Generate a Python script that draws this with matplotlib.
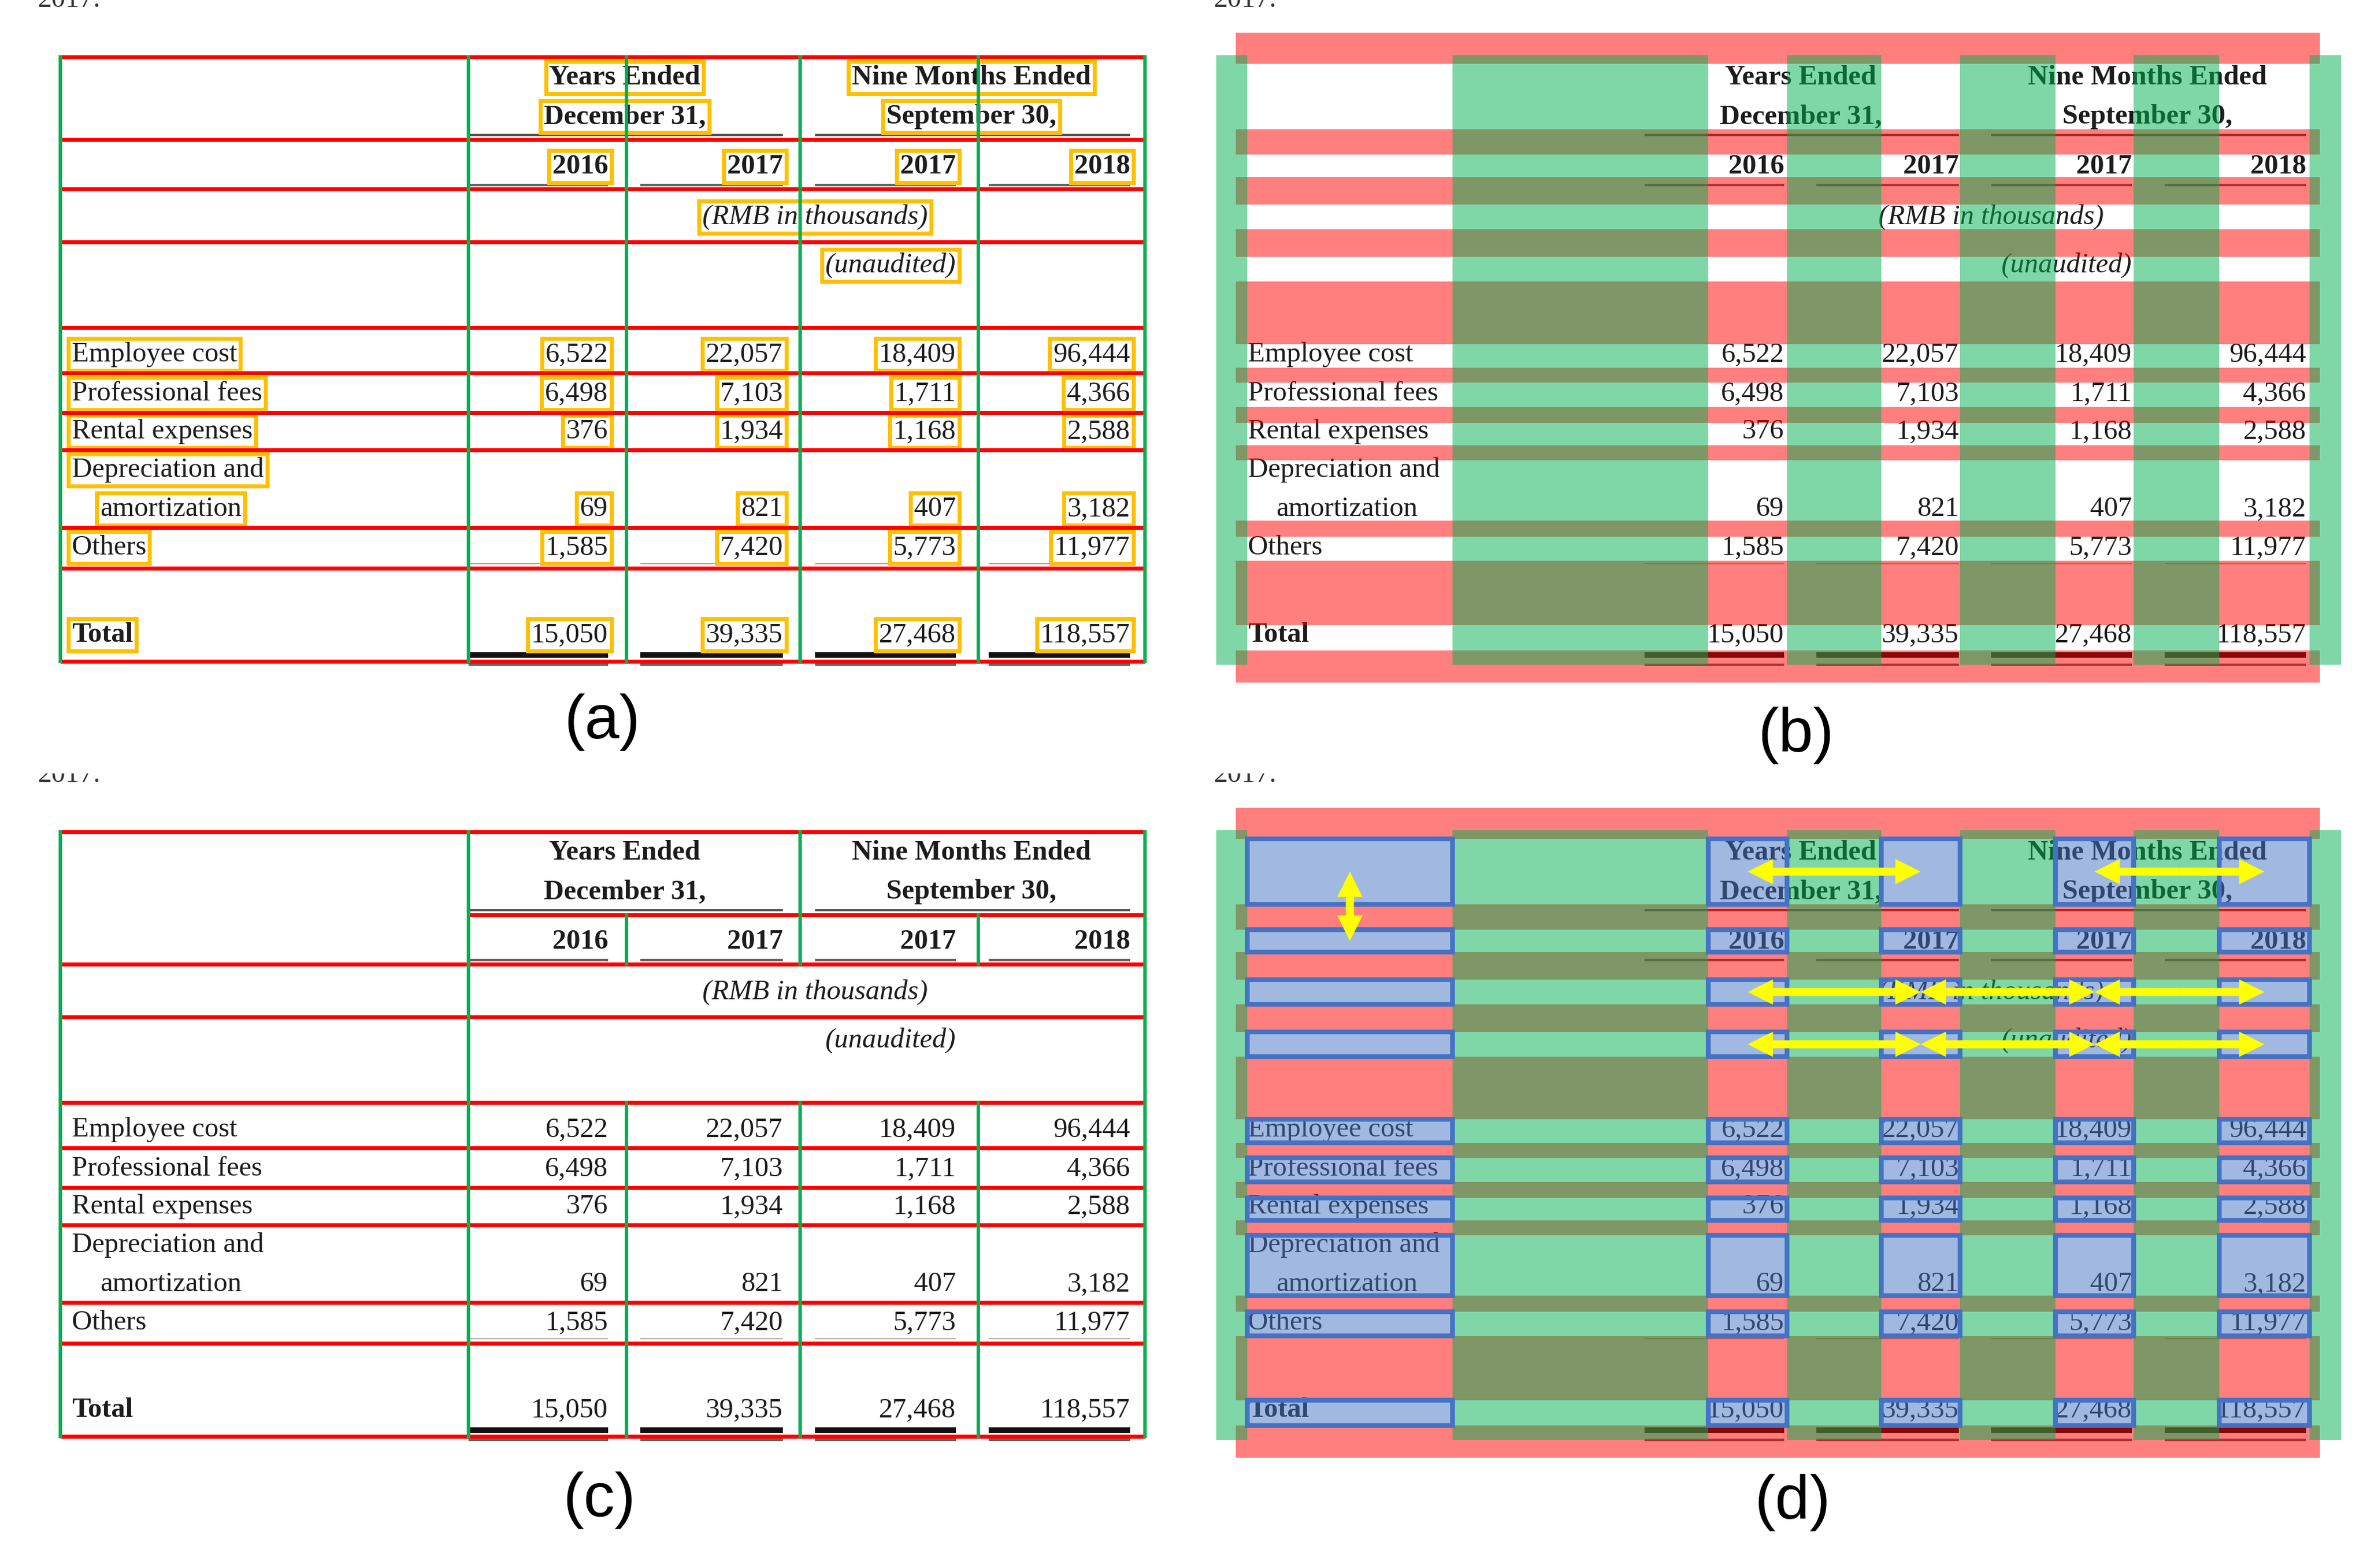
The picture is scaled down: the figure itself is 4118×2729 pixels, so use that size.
import matplotlib.pyplot as plt
from matplotlib.patches import Rectangle

# ---- table content ----
group_titles = ['Years Ended', 'Nine Months Ended']
group_dates = ['December 31,', 'September 30,']
years = ['2016', '2017', '2017', '2018']
unit_note = '(RMB in thousands)'
audit_note = '(unaudited)'
row_labels = ['Employee cost', 'Professional fees', 'Rental expenses',
              'Depreciation and', 'Others', 'Total']
dep_label_2 = 'amortization'
employee_cost = [6522, 22057, 18409, 96444]
professional_fees = [6498, 7103, 1711, 4366]
rental_expenses = [376, 1934, 1168, 2588]
depreciation = [69, 821, 407, 3182]
others = [1585, 7420, 5773, 11977]
total = [15050, 39335, 27468, 118557]
row_values = [employee_cost, professional_fees, rental_expenses,
              depreciation, others, total]
top_fragment = '2017.'
panel_tags = ['(a)', '(b)', '(c)', '(d)']

# ---- layout (pixels, per panel) ----
W, H = 4118, 2729
panel_origin = [(0, 0), (2046, 0), (0, 1349), (2046, 1349)]
tag_pos = [(1048, 1257), (3124, 1280), (1043, 2611), (3118, 2615)]

label_x, indent_x = 125, 174
col_right = [1058, 1362, 1663, 1966]
col_left = [815, 1114, 1418, 1720]
group_center = [1087, 1690]
group_left = [815, 1418]
title_base, date_base, year_base = 147, 215, 302
unit_center, unit_base = 1418, 390
audit_right, audit_base = 1663, 474
row_base = [629, 697, 763, 898, 965, 1117]
dep_top_base = 830

grid_y = [99, 243, 329, 421, 570, 649, 718, 783, 918, 989, 1151]
grid_x = [105, 815, 1090, 1392, 1702, 1992]
# panel (c): merged cells -> partial rules, given as grid_y index ranges
c_vspans = {2: [(1, 2), (4, 10)], 3: [(0, 2), (4, 10)], 4: [(1, 2), (4, 10)]}

band_rows = [(57, 111), (225, 269), (308, 356), (399, 447), (490, 599), (640, 666),
             (708, 736), (775, 801), (906, 934), (976, 1088), (1132, 1188)]
band_cols = [(70, 124), (481, 926), (1063, 1227), (1364, 1530), (1666, 1815), (1972, 2027)]
band_row_span = (104, 1990)
band_col_span = (96, 1157)

arrow_links = [((0, 0), (1, 0)), ((0, 1), (0, 2)), ((0, 3), (0, 4)),
               ((2, 1), (2, 2)), ((2, 2), (2, 3)), ((2, 3), (2, 4)),
               ((3, 1), (3, 2)), ((3, 2), (3, 3)), ((3, 3), (3, 4))]

SERIF = 'Liberation Serif'
FS = 35
INK = '#1c1c1c'
RED = '#FF0000'
GREEN = '#00B050'
ORANGE = '#FFC000'
BLUE = '#4472C4'

fig = plt.figure(figsize=(W / 100, H / 100), dpi=100)
ax = fig.add_axes([0, 0, 1, 1])
ax.set_xlim(0, W)
ax.set_ylim(H, 0)
ax.axis('off')


def draw_table(ox, oy, boxed):
    box = dict(boxstyle='square,pad=0.12', fc='none', ec=ORANGE, lw=5) if boxed else None

    def put(x, y, s, ha, **kw):
        ax.text(ox + x, oy + y, s, ha=ha, va='baseline', family=SERIF, fontsize=FS,
                color=INK, bbox=box, zorder=2, **kw)

    def rule(x0, x1, y, color, lw):
        ax.plot([ox + x0, ox + x1], [oy + y, oy + y], color=color, lw=lw,
                solid_capstyle='butt', zorder=1)

    # cut-off last line of the page above the table
    frag = ax.text(ox + 66, oy + 12, top_fragment, ha='left', va='baseline',
                   family=SERIF, fontsize=FS, color='#333333', zorder=1)
    frag.set_clip_on(True)
    frag.set_clip_path(Rectangle((ox, oy - 3), 600, 60, transform=ax.transData))

    for i in range(2):
        put(group_center[i], title_base, group_titles[i], 'center', weight='bold')
        put(group_center[i], date_base, group_dates[i], 'center', weight='bold')
        rule(group_left[i], col_right[2 * i + 1], 235, '#555555', 3)
    for j in range(4):
        put(col_right[j], year_base, years[j], 'right', weight='bold')
        rule(col_left[j], col_right[j], 322, '#666666', 3)
        rule(col_left[j], col_right[j], 981, '#aaaaaa', 1.5)
        rule(col_left[j], col_right[j], 1140, '#111111', 7)
        rule(col_left[j], col_right[j], 1157, '#666666', 3)
    put(unit_center, unit_base, unit_note, 'center', style='italic')
    put(audit_right, audit_base, audit_note, 'right', style='italic')

    for i, (lab, vals) in enumerate(zip(row_labels, row_values)):
        bold = 'bold' if lab == 'Total' else 'normal'
        if lab.startswith('Depreciation'):
            put(label_x, dep_top_base, lab, 'left')
            put(indent_x, row_base[i], dep_label_2, 'left')
        else:
            put(label_x, row_base[i], lab, 'left', weight=bold)
        for j, v in enumerate(vals):
            put(col_right[j], row_base[i], f'{v:,}', 'right')


def draw_grid(ox, oy, merged):
    for k, y in enumerate(grid_y):
        x0 = grid_x[1] if (merged and k == 1) else grid_x[0]
        ax.plot([ox + x0, ox + grid_x[-1]], [oy + y, oy + y], color=RED, lw=5,
                solid_capstyle='butt', zorder=3)
    for k, x in enumerate(grid_x):
        spans = c_vspans.get(k, [(0, 10)]) if merged else [(0, 10)]
        for a, b in spans:
            ax.plot([ox + x, ox + x], [oy + grid_y[a] - 3, oy + grid_y[b] + 3],
                    color=GREEN, lw=4.3, solid_capstyle='butt', zorder=3)


def draw_bands(ox, oy):
    for y0, y1 in band_rows:
        ax.add_patch(Rectangle((ox + band_row_span[0], oy + y0), band_row_span[1] - band_row_span[0],
                               y1 - y0, fc=RED, alpha=0.5, lw=0, zorder=3))
    for x0, x1 in band_cols:
        ax.add_patch(Rectangle((ox + x0, oy + band_col_span[0]), x1 - x0,
                               band_col_span[1] - band_col_span[0],
                               fc=GREEN, alpha=0.5, lw=0, zorder=4))


def cell_bounds():
    ys = [(band_rows[i][1], band_rows[i + 1][0]) for i in range(len(band_rows) - 1)]
    xs = [(band_cols[i][1], band_cols[i + 1][0]) for i in range(len(band_cols) - 1)]
    return ys, xs


def double_arrow(xa, ya, xb, yb):
    xm, ym = (xa + xb) / 2, (ya + yb) / 2
    for xe, ye in [(xa, ya), (xb, yb)]:
        ax.arrow(xm, ym, xe - xm, ye - ym, width=14, head_width=44, head_length=44,
                 length_includes_head=True, fc='#FFFF00', ec='none', zorder=7)


def draw_cells(ox, oy):
    ys, xs = cell_bounds()
    for y0, y1 in ys:
        for x0, x1 in xs:
            ax.add_patch(Rectangle((ox + x0, oy + y0), x1 - x0, y1 - y0,
                                   fc=(68 / 255, 114 / 255, 196 / 255, 0.5),
                                   ec=BLUE, lw=6, zorder=6))
    for (ra, ca), (rb, cb) in arrow_links:
        xa, ya = sum(xs[ca]) / 2, sum(ys[ra]) / 2
        xb, yb = sum(xs[cb]) / 2, sum(ys[rb]) / 2
        double_arrow(ox + xa, oy + ya, ox + xb, oy + yb)


for p, (ox, oy) in enumerate(panel_origin):
    draw_table(ox, oy, boxed=(p == 0))
    if p == 0:
        draw_grid(ox, oy, merged=False)
    elif p == 2:
        draw_grid(ox, oy, merged=True)
    else:
        draw_bands(ox, oy)
        if p == 3:
            draw_cells(ox, oy)
    tx, ty = tag_pos[p]
    ax.text(tx, ty, panel_tags[p], ha='center', va='center', family='Liberation Sans',
            fontsize=78, color='black')

fig.savefig('out.png', dpi=100, facecolor='white')
